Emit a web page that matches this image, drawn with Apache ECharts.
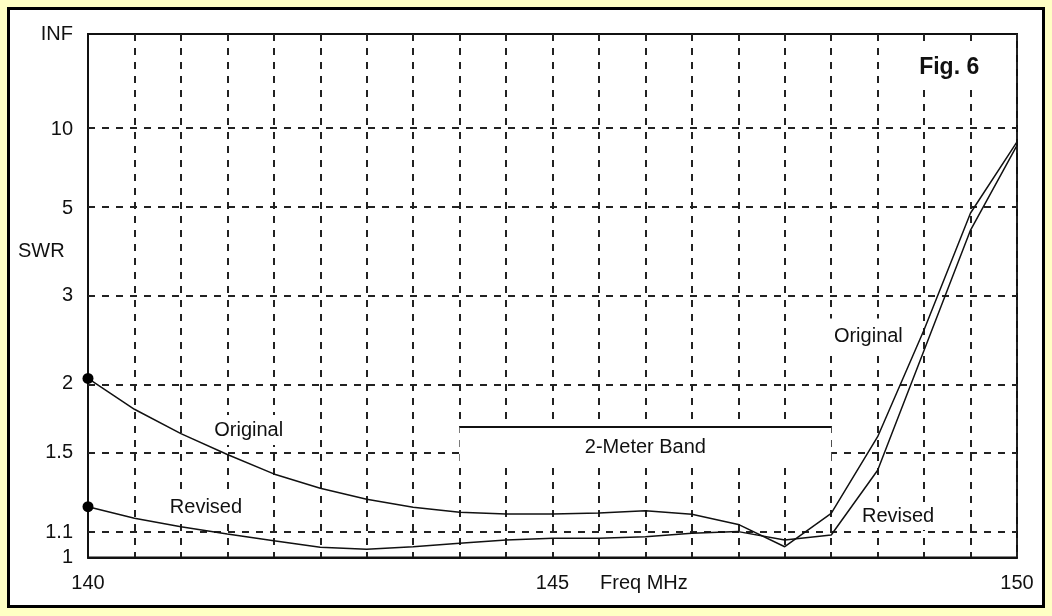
<!DOCTYPE html>
<html>
<head>
<meta charset="utf-8">
<title>SWR vs Frequency</title>
<script src="https://cdn.jsdelivr.net/npm/echarts@6/dist/echarts.min.js"></script>
<style>
  html, body { margin: 0; padding: 0; background: #ffffc4; }
  #frame { position: absolute; left: 7px; top: 7px; width: 1032px; height: 595px;
           border: 3px solid #000; background: #fff; }
  #chart { position: absolute; left: 0; top: 0; width: 1052px; height: 616px; }
</style>
</head>
<body>
<div id="frame"></div>
<div id="chart"></div>
<script>
// Frequency samples (MHz)
const freq = [140, 140.5, 141, 141.5, 142, 142.5, 143, 143.5, 144, 144.5, 145,
              145.5, 146, 146.5, 147, 147.5, 148, 148.5, 149, 149.5, 150];
// SWR of the original antenna
const originalSwr = [2.04, 1.79, 1.62, 1.49, 1.38, 1.305, 1.25, 1.212, 1.189, 1.181, 1.181,
                     1.186, 1.196, 1.18, 1.135, 1.042, 1.184, 1.60, 2.54, 4.85, 8.7];
// SWR of the revised antenna
const revisedSwr = [1.215, 1.162, 1.125, 1.094, 1.066, 1.040, 1.032, 1.042, 1.056, 1.069, 1.076,
                    1.076, 1.083, 1.097, 1.104, 1.069, 1.09, 1.40, 2.31, 4.34, 8.4];
// SWR axis ticks and their labels
const swrTicks = [Infinity, 10, 5, 3, 2, 1.5, 1.1, 1];
const swrTickLabels = ['INF', '10', '5', '3', '2', '1.5', '1.1', '1'];
// Frequency axis labels
const freqLabels = [140, 145, 150];
// 2-meter amateur band edges (MHz)
const bandEdges = [144, 148];

// SWR axis is linear in reflection coefficient: rho = (S-1)/(S+1)
function rho(s) { return s === Infinity ? 1 : (s - 1) / (s + 1); }

const FONT = '"Liberation Sans", Arial, sans-serif';
const INK = '#111';
const dash = [7, 7];

const tickRho = swrTicks.map(rho);

// Text notes placed in chart coordinates (frequency, SWR)
const notes = [
  { text: 'Original', f: 141.73, s: 1.644, pad: [5, 8] },
  { text: 'Revised', f: 141.27, s: 1.209, pad: [5, 8] },
  { text: 'Original', f: 148.40, s: 2.46, pad: [8, 6] },
  { text: 'Revised', f: 148.72, s: 1.172, pad: [4, 6] },
  { text: '2-Meter Band', f: 146.0, s: 1.535, pad: [2, 4] },
  { text: 'Fig. 6', f: 149.27, s: 30, pad: [10, 6], bold: true }
];

function curve(values, name) {
  return {
    name: name,
    type: 'line',
    z: 8,
    showSymbol: true,
    symbol: 'none',
    silent: true,
    lineStyle: { color: INK, width: 1.5 },
    data: values.map((s, i) => {
      const item = { value: [freq[i], rho(s)] };
      if (i === 0) {
        item.symbol = 'circle';
        item.symbolSize = 11;
        item.itemStyle = { color: '#000', borderWidth: 0, opacity: 1 };
      }
      return item;
    })
  };
}

const chart = echarts.init(document.getElementById('chart'), null, { renderer: 'canvas' });

chart.setOption({
  backgroundColor: 'transparent',
  animation: false,
  grid: { left: 88, top: 34, right: 35, bottom: 58.5, show: true,
          borderColor: INK, borderWidth: 2, backgroundColor: 'transparent' },
  xAxis: {
    type: 'value', min: 140, max: 150, interval: 0.5,
    axisLine: { show: true, lineStyle: { color: INK, width: 2 } },
    axisTick: { show: false },
    splitLine: { show: true, lineStyle: { color: '#222', width: 2, type: dash } },
    axisLabel: {
      margin: 16, fontSize: 20, fontFamily: FONT, color: INK,
      formatter: v => (freqLabels.indexOf(v) >= 0 ? String(v) : '')
    }
  },
  yAxis: {
    type: 'value', min: 0, max: 1,
    axisLine: { show: true, lineStyle: { color: INK, width: 2 } },
    axisTick: { show: false, customValues: tickRho },
    splitLine: { show: false },
    axisLabel: {
      customValues: tickRho,
      margin: 15, fontSize: 20, fontFamily: FONT, color: INK,
      formatter: v => {
        const i = tickRho.findIndex(t => Math.abs(t - v) < 1e-9);
        return i >= 0 ? swrTickLabels[i] : '';
      }
    }
  },
  graphic: [
    { type: 'text', left: 18, top: 241, silent: true,
      style: { text: 'SWR', fontSize: 20, fontFamily: FONT, fill: INK } },
    { type: 'text', left: 600, top: 573, silent: true,
      style: { text: 'Freq MHz', fontSize: 20, fontFamily: FONT, fill: INK } }
  ],
  series: [
    {
      // horizontal dashed grid at the SWR ticks
      name: 'swr-grid', type: 'line', z: 1, data: [], silent: true,
      markLine: {
        z: 1, silent: true, symbol: 'none', label: { show: false },
        lineStyle: { color: '#222', width: 2, type: dash, opacity: 1 },
        data: tickRho.filter(r => r > 0 && r < 1).map(r => ({ yAxis: r }))
      }
    },
    {
      // band marker with its cleared label area
      name: 'band', type: 'line', z: 5, data: [], silent: true,
      markArea: {
        z: 5, silent: true,
        itemStyle: { color: '#fff', opacity: 1 },
        data: [[{ coord: [bandEdges[0], rho(1.44)] }, { coord: [bandEdges[1], rho(5 / 3)] }]]
      },
      markLine: {
        z: 6, silent: true, symbol: 'none', label: { show: false },
        lineStyle: { color: INK, width: 2, type: 'solid', opacity: 1 },
        data: [[{ coord: [bandEdges[0], rho(5 / 3)] }, { coord: [bandEdges[1], rho(5 / 3)] }]]
      }
    },
    {
      name: 'notes', type: 'scatter', z: 7, silent: true,
      symbolSize: 1, itemStyle: { color: 'rgba(0,0,0,0)', opacity: 1 },
      data: notes.map(n => ({
        name: n.text,
        value: [n.f, rho(n.s)],
        label: {
          show: true, position: 'inside', formatter: '{b}',
          fontSize: n.bold ? 23 : 20, fontWeight: n.bold ? 'bold' : 'normal',
          fontFamily: FONT, color: INK,
          backgroundColor: '#fff', padding: n.pad
        }
      }))
    },
    curve(originalSwr, 'Original'),
    curve(revisedSwr, 'Revised')
  ]
});
</script>
</body>
</html>
